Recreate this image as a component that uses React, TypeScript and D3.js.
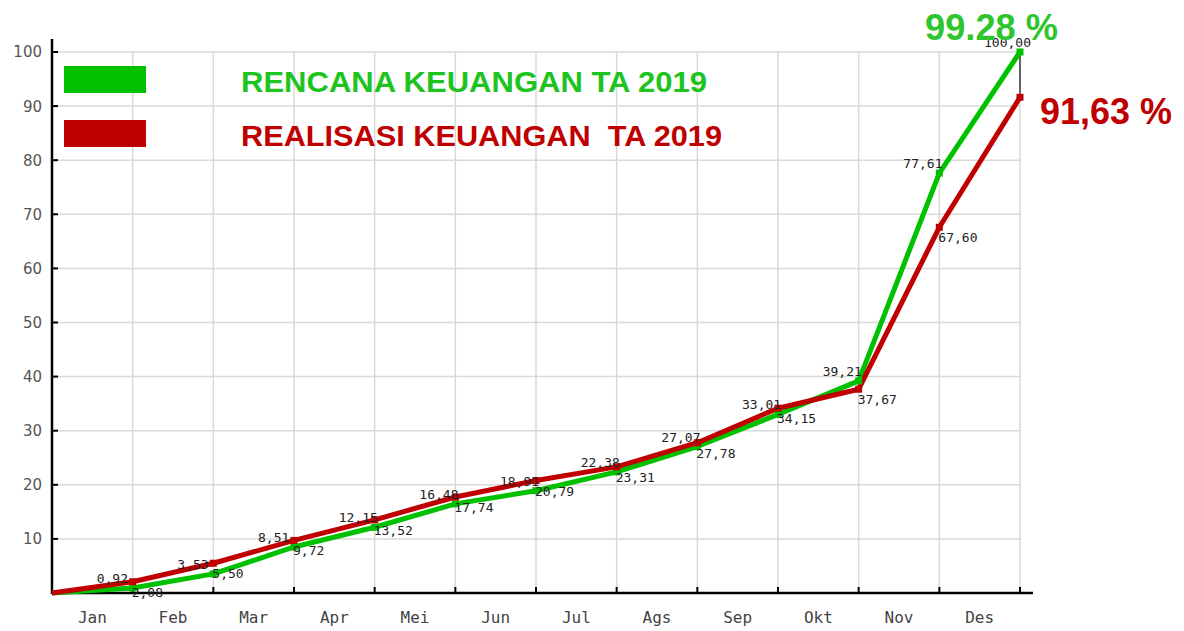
import React from "react";
import * as d3 from "d3";

const months = ["Jan", "Feb", "Mar", "Apr", "Mei", "Jun", "Jul", "Ags", "Sep", "Okt", "Nov", "Des"];
const rencana = [0.92, 3.53, 8.51, 12.15, 16.48, 18.91, 22.38, 27.07, 33.01, 39.21, 77.61, 100.0];
const realisasi = [2.08, 5.5, 9.72, 13.52, 17.74, 20.79, 23.31, 27.78, 34.15, 37.67, 67.6, 91.63];
const startValue = 0;
const yTicks = [10, 20, 30, 40, 50, 60, 70, 80, 90, 100];
const legendRencana = "RENCANA KEUANGAN TA 2019";
const legendRealisasi = "REALISASI KEUANGAN  TA 2019";
const finalRencana = "99.28 %";
const finalRealisasi = "91,63 %";

const W = 1184;
const H = 631;
const GREEN = "#00c000";
const RED = "#c00000";

const fmt = (v: number) => v.toFixed(2).replace(".", ",");

export default function App() {
  const x = d3.scaleLinear().domain([0, months.length]).range([52, 1020]);
  const y = d3.scaleLinear().domain([0, 100]).range([593, 52]);

  const greenPts: [number, number][] = [[0, startValue], ...rencana.map((v, i) => [i + 1, v] as [number, number])];
  const redPts: [number, number][] = [[0, startValue], ...realisasi.map((v, i) => [i + 1, v] as [number, number])];
  const line = d3.line<[number, number]>().x((d) => x(d[0])).y((d) => y(d[1]));

  const last = months.length;
  const mono = "'DejaVu Sans Mono', monospace";

  return (
    <svg width={W} height={H} style={{ position: "absolute", left: 0, top: 0, background: "#fff" }}>
      {/* grid */}
      {yTicks.map((t) => (
        <line key={"hg" + t} x1={x(0)} x2={x(last)} y1={y(t)} y2={y(t)} stroke="#d9d9d9" strokeWidth={1.5} />
      ))}
      {months.map((m, i) => (
        <line key={"vg" + m} x1={x(i + 1)} x2={x(i + 1)} y1={y(100)} y2={y(0)} stroke="#d9d9d9" strokeWidth={1.5} />
      ))}
      {/* difference line at final month */}
      <line
        x1={x(last)}
        x2={x(last)}
        y1={y(rencana[last - 1])}
        y2={y(realisasi[last - 1])}
        stroke="#111"
        strokeWidth={1.2}
      />

      {/* axes */}
      <line x1={x(0)} x2={x(0)} y1={39} y2={y(0) + 1} stroke="#000" strokeWidth={2.5} />
      <line x1={x(0)} x2={1033} y1={y(0)} y2={y(0)} stroke="#000" strokeWidth={2.5} />
      {yTicks.map((t) => (
        <g key={"yt" + t}>
          <line x1={x(0)} x2={x(0) + 6} y1={y(t)} y2={y(t)} stroke="#000" strokeWidth={2} />
          <text
            x={42}
            y={y(t)}
            dy="0.36em"
            textAnchor="end"
            fontFamily="'DejaVu Sans', sans-serif"
            fontSize={15}
            fill="#555"
          >
            {t}
          </text>
        </g>
      ))}
      {months.map((m, i) => (
        <g key={"xt" + m}>
          <line x1={x(i + 1)} x2={x(i + 1)} y1={y(0)} y2={y(0) - 6} stroke="#000" strokeWidth={2} />
          <text x={x(i + 0.5)} y={623} textAnchor="middle" fontFamily={mono} fontSize={16} fill="#444">
            {m}
          </text>
        </g>
      ))}

      {/* lines */}
      <path d={line(greenPts) || ""} fill="none" stroke={GREEN} strokeWidth={5} strokeLinejoin="round" />
      <path d={line(redPts) || ""} fill="none" stroke={RED} strokeWidth={5} strokeLinejoin="round" />
      {greenPts.slice(1).map((p, i) => (
        <rect key={"gm" + i} x={x(p[0]) - 3.5} y={y(p[1]) - 3.5} width={7} height={7} fill={GREEN} />
      ))}
      {redPts.slice(1).map((p, i) => (
        <rect key={"rm" + i} x={x(p[0]) - 3.5} y={y(p[1]) - 3.5} width={7} height={7} fill={RED} />
      ))}

      {/* point labels */}
      {rencana.map((v, i) => (
        <text key={"gl" + i} x={x(i + 1) - 36} y={y(v) - 5} fontFamily={mono} fontSize={13} fill="#222">
          {fmt(v)}
        </text>
      ))}
      {realisasi.slice(0, last - 1).map((v, i) => (
        <text key={"rl" + i} x={x(i + 1) - 1} y={y(v) + 15} fontFamily={mono} fontSize={13} fill="#222">
          {fmt(v)}
        </text>
      ))}

      {/* legend */}
      <rect x={64} y={66} width={82} height={27} fill={GREEN} />
      <rect x={64} y={120} width={82} height={27} fill={RED} />
      <text
        x={241}
        y={92}
        fontFamily="'Liberation Sans', Arial, sans-serif"
        fontWeight="bold"
        fontSize={30}
        fill="#1ec41e"
        textLength={466}
        lengthAdjust="spacingAndGlyphs"
      >
        {legendRencana}
      </text>
      <text
        x={241}
        y={146}
        fontFamily="'Liberation Sans', Arial, sans-serif"
        fontWeight="bold"
        fontSize={30}
        fill={RED}
        textLength={481}
        lengthAdjust="spacingAndGlyphs"
        style={{ whiteSpace: "pre" }}
      >
        {legendRealisasi}
      </text>

      {/* final values */}
      <text
        x={925}
        y={40}
        fontFamily="'Liberation Sans', Arial, sans-serif"
        fontWeight="bold"
        fontSize={37}
        fill="#2ec52e"
        textLength={133}
        lengthAdjust="spacingAndGlyphs"
      >
        {finalRencana}
      </text>
      <text
        x={1040}
        y={124}
        fontFamily="'Liberation Sans', Arial, sans-serif"
        fontWeight="bold"
        fontSize={37}
        fill={RED}
        textLength={132}
        lengthAdjust="spacingAndGlyphs"
      >
        {finalRealisasi}
      </text>
    </svg>
  );
}
